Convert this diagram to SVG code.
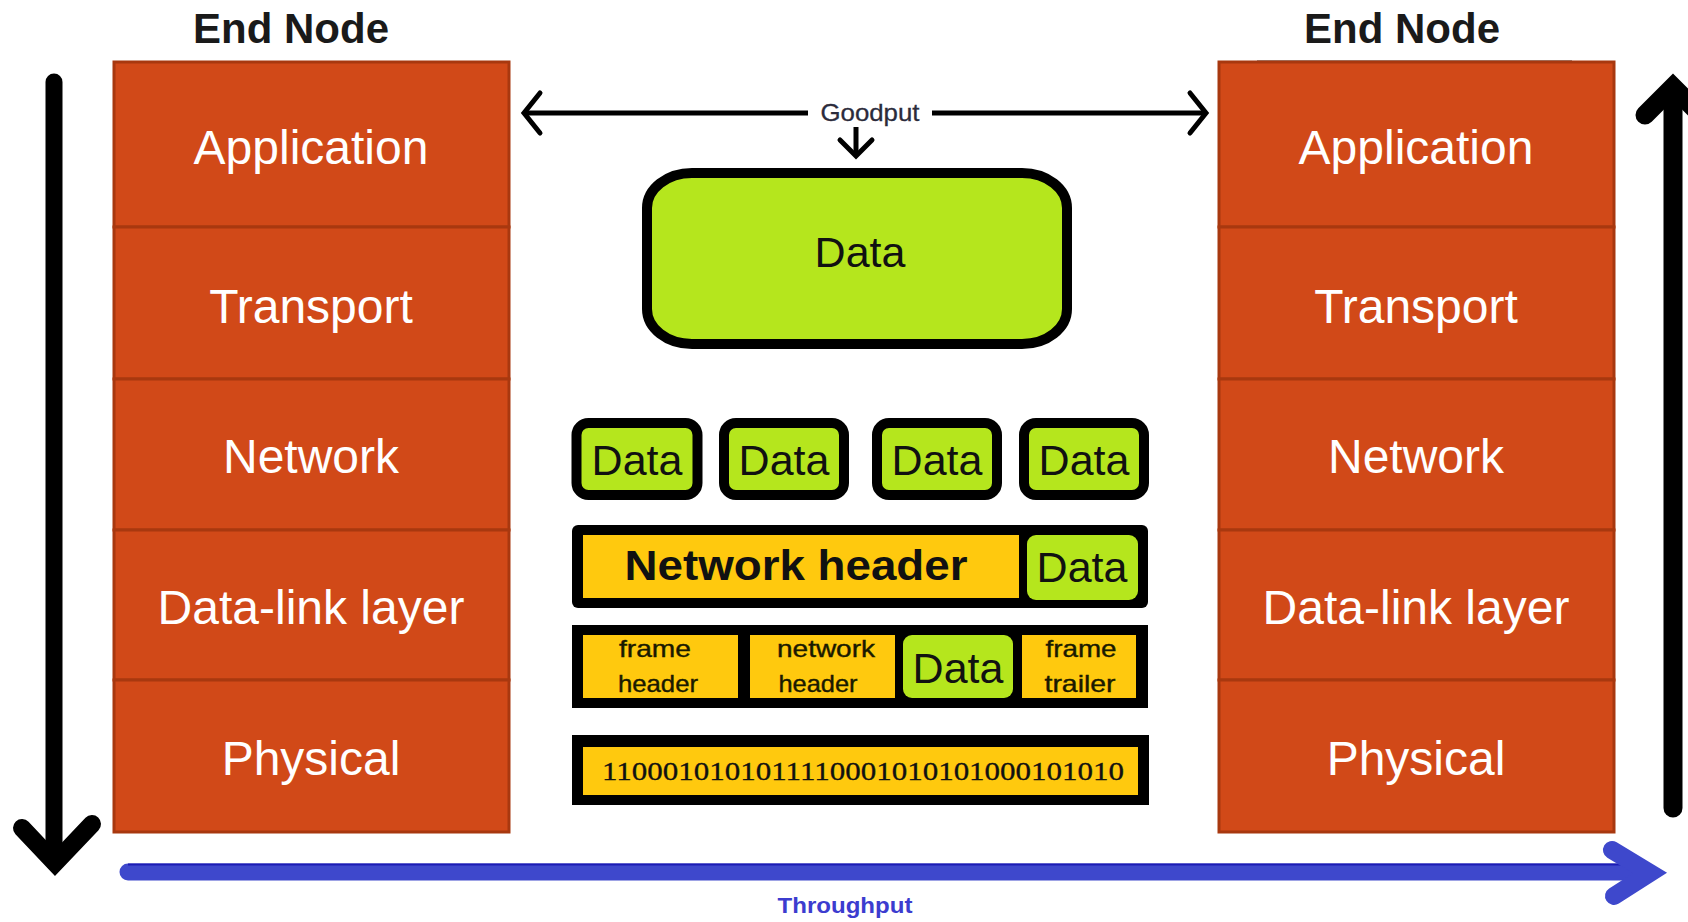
<svg xmlns="http://www.w3.org/2000/svg" width="1688" height="922" viewBox="0 0 1688 922">
<style>
.layer{fill:#d14918;stroke:#a8380f;stroke-width:3}
.lt{font-family:"Liberation Sans",Arial,sans-serif;font-size:48px;fill:#ffffff;text-anchor:middle}
.title{font-family:"Liberation Sans",Arial,sans-serif;font-size:42px;font-weight:bold;fill:#1a1a1a;text-anchor:middle}
.dt{font-family:"Liberation Sans",Arial,sans-serif;font-size:43px;fill:#111;text-anchor:middle}
.sm{font-family:"Liberation Sans",Arial,sans-serif;font-size:24px;fill:#1a1a00;text-anchor:middle;stroke:#1a1a00;stroke-width:0.4}
.green{fill:#b5e61d}
.orange{fill:#ffc90e}
.blk{fill:#000}
</style>

<g id="left-title"><text class="title" x="291" y="43">End Node</text></g>
<g id="right-title"><text class="title" x="1402" y="43">End Node</text>
<line x1="1257" y1="61" x2="1572" y2="61" stroke="#9a9a9a" stroke-width="2"/></g>

<g id="left-stack">
<rect class="layer" x="114" y="62" width="395" height="165"/>
<rect class="layer" x="114" y="227" width="395" height="152"/>
<rect class="layer" x="114" y="379" width="395" height="151"/>
<rect class="layer" x="114" y="530" width="395" height="150"/>
<rect class="layer" x="114" y="680" width="395" height="152"/>
<text class="lt" x="311" y="164">Application</text>
<text class="lt" x="311" y="323">Transport</text>
<text class="lt" x="311" y="473">Network</text>
<text class="lt" x="311" y="624">Data-link layer</text>
<text class="lt" x="311" y="775">Physical</text>
</g>

<g id="right-stack">
<rect class="layer" x="1219" y="62" width="395" height="165"/>
<rect class="layer" x="1219" y="227" width="395" height="152"/>
<rect class="layer" x="1219" y="379" width="395" height="151"/>
<rect class="layer" x="1219" y="530" width="395" height="150"/>
<rect class="layer" x="1219" y="680" width="395" height="152"/>
<text class="lt" x="1416" y="164">Application</text>
<text class="lt" x="1416" y="323">Transport</text>
<text class="lt" x="1416" y="473">Network</text>
<text class="lt" x="1416" y="624">Data-link layer</text>
<text class="lt" x="1416" y="775">Physical</text>
</g>

<g id="connectors">
<line x1="54" y1="82" x2="54" y2="862" stroke="#000" stroke-width="17" stroke-linecap="round"/>
<polyline points="22,828 55,863 92,824" fill="none" stroke="#000" stroke-width="18" stroke-linecap="round" stroke-linejoin="miter"/>
<line x1="1673" y1="808" x2="1673" y2="92" stroke="#000" stroke-width="19" stroke-linecap="round"/>
<polyline points="1645,115 1673,87 1701,115" fill="none" stroke="#000" stroke-width="19" stroke-linecap="round" stroke-linejoin="miter"/>
<line x1="128" y1="872" x2="1645" y2="872" stroke="#3e48cc" stroke-width="17" stroke-linecap="round"/>
<line x1="128" y1="864.5" x2="1640" y2="864.5" stroke="#1c1cb4" stroke-width="2"/>
<polyline points="1612,850 1650,873 1614,896" fill="none" stroke="#3e48cc" stroke-width="18" stroke-linecap="round" stroke-linejoin="miter"/>
<text x="845" y="913" font-family="Liberation Sans, Arial, sans-serif" font-size="22" font-weight="bold" fill="#3c3ccf" text-anchor="middle" textLength="135" lengthAdjust="spacingAndGlyphs">Throughput</text>
<line x1="524" y1="113" x2="808" y2="113" stroke="#000" stroke-width="5"/>
<line x1="932" y1="113" x2="1206" y2="113" stroke="#000" stroke-width="5"/>
<polyline points="540,93 524,113 540,133" fill="none" stroke="#000" stroke-width="5" stroke-linecap="round"/>
<polyline points="1190,93 1206,113 1190,133" fill="none" stroke="#000" stroke-width="5" stroke-linecap="round"/>
<text x="870" y="121" font-family="Liberation Sans, Arial, sans-serif" font-size="24" fill="#2b2b3b" stroke="#2b2b3b" stroke-width="0.3" text-anchor="middle" textLength="99" lengthAdjust="spacingAndGlyphs">Goodput</text>
<line x1="856" y1="127" x2="856" y2="154" stroke="#000" stroke-width="5"/>
<polyline points="840,140 856,156 872,140" fill="none" stroke="#000" stroke-width="5" stroke-linecap="round"/>
</g>

<g id="app-data">
<rect x="647" y="173" width="420" height="171" rx="45" ry="35" class="green" stroke="#000" stroke-width="10"/>
<text class="dt" x="860" y="267">Data</text>
</g>

<g id="transport-segments">
<rect x="576.5" y="423" width="121" height="72" rx="12" class="green" stroke="#000" stroke-width="10"/>
<rect x="724" y="423" width="120" height="72" rx="12" class="green" stroke="#000" stroke-width="10"/>
<rect x="877" y="423" width="120" height="72" rx="12" class="green" stroke="#000" stroke-width="10"/>
<rect x="1024" y="423" width="120" height="72" rx="12" class="green" stroke="#000" stroke-width="10"/>
<text class="dt" x="637" y="475">Data</text>
<text class="dt" x="784" y="475">Data</text>
<text class="dt" x="937" y="475">Data</text>
<text class="dt" x="1084" y="475">Data</text>
</g>

<g id="network-packet">
<rect x="572" y="525" width="576" height="83" rx="6" class="blk"/>
<rect x="583" y="535" width="436" height="63" class="orange"/>
<rect x="1027" y="535" width="111" height="65" rx="9" class="green"/>
<text x="796" y="580" font-family="Liberation Sans, Arial, sans-serif" font-size="42" font-weight="bold" fill="#111" text-anchor="middle" textLength="343" lengthAdjust="spacingAndGlyphs">Network header</text>
<text class="dt" x="1082" y="582">Data</text>
</g>

<g id="frame">
<rect x="572" y="625" width="576" height="83" class="blk"/>
<rect x="583" y="635" width="155" height="63" class="orange"/>
<rect x="750" y="635" width="145" height="63" class="orange"/>
<rect x="903" y="635" width="110" height="63" rx="9" class="green"/>
<rect x="1022" y="635" width="114" height="63" class="orange"/>
<text class="sm" x="655" y="657" textLength="72" lengthAdjust="spacingAndGlyphs">frame</text>
<text class="sm" x="658" y="692" textLength="80" lengthAdjust="spacingAndGlyphs">header</text>
<text class="sm" x="826" y="657" textLength="98" lengthAdjust="spacingAndGlyphs">network</text>
<text class="sm" x="818" y="692" textLength="79" lengthAdjust="spacingAndGlyphs">header</text>
<text class="dt" x="958" y="683">Data</text>
<text class="sm" x="1081" y="657" textLength="71" lengthAdjust="spacingAndGlyphs">frame</text>
<text class="sm" x="1080" y="692" textLength="71" lengthAdjust="spacingAndGlyphs">trailer</text>
</g>

<g id="bits">
<rect x="572" y="735" width="577" height="70" class="blk"/>
<rect x="583" y="747" width="555" height="48" class="orange"/>
<text x="863" y="780" font-family="Liberation Serif, Times New Roman, serif" font-size="26" fill="#111" stroke="#111" stroke-width="0.3" text-anchor="middle" textLength="522" lengthAdjust="spacingAndGlyphs">1100010101011110001010101000101010</text>
</g>
</svg>
